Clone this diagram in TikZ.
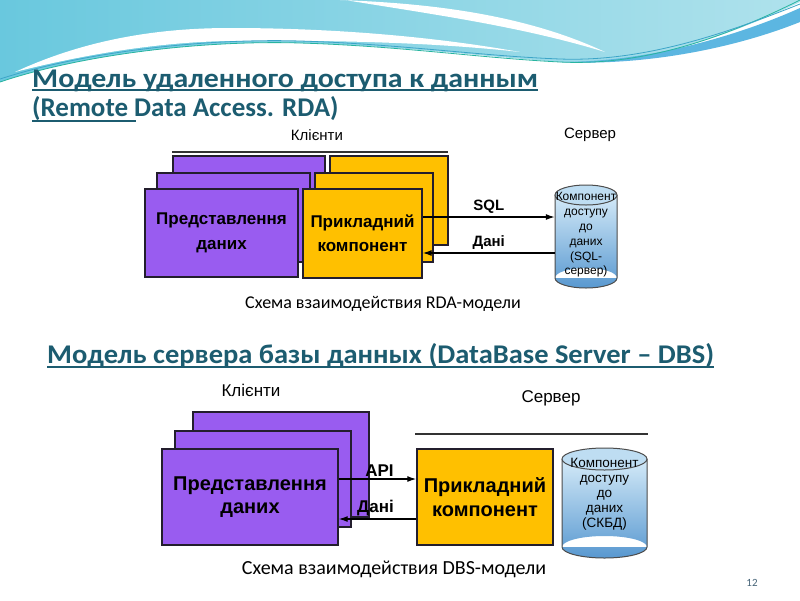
\documentclass[tikz,border=0pt]{standalone}
\usepackage{fontspec}
\setmainfont{Liberation Sans}
\newfontfamily\calibri{Carlito}
\usetikzlibrary{arrows.meta,calc}
\definecolor{ttl}{RGB}{28,92,112}
\definecolor{purp}{RGB}{153,92,240}
\definecolor{yel}{RGB}{255,192,0}
\definecolor{tealL}{RGB}{105,200,222}
\definecolor{tealR}{RGB}{175,226,236}
\definecolor{blueband}{RGB}{92,182,225}
\definecolor{cylT}{RGB}{212,234,248}
\definecolor{cylB}{RGB}{88,152,208}
\definecolor{cylTop}{RGB}{190,221,242}
\definecolor{lineA}{RGB}{40,180,160}
\definecolor{lineB}{RGB}{60,165,200}
\definecolor{edge}{RGB}{35,30,45}
\definecolor{pgcol}{RGB}{70,100,120}
\begin{document}
\begin{tikzpicture}[x=1pt,y=-1pt,
  pbox/.style={draw=edge, line width=1.4pt, fill=purp, inner sep=0pt},
  ybox/.style={draw=edge, line width=1.4pt, fill=yel, inner sep=0pt},
  arr/.style={draw=black, line width=1.3pt, -{Latex[length=9pt,width=6pt]}},
  lbl/.style={font=\bfseries\fontsize{15}{18}\selectfont, inner sep=1.5pt},
  lblb/.style={font=\bfseries\fontsize{17}{20}\selectfont, inner sep=2pt},
  ttlfont/.style={font=\calibri\bfseries\fontsize{27}{32}\selectfont, text=ttl, inner sep=0pt},
  captxt/.style={font=\calibri\fontsize{18}{22}\selectfont, inner sep=0pt},
  cyltext/.style={align=center, inner sep=0pt}]
\useasboundingbox (0,0) rectangle (800,600);
\fill[white] (0,0) rectangle (800,600);
% ---- top decoration ----
\shade[left color=tealL, right color=tealR]
  (0,0) -- (800,0) -- (800,2) .. controls (700,50) and (620,66) .. (560,62)
  .. controls (480,56) and (400,46) .. (300,43)
  .. controls (200,40) and (80,55) .. (0,82) -- cycle;
\fill[blueband]
  (560,62) .. controls (650,62) and (740,35) .. (800,8) -- (800,22)
  .. controls (730,50) and (640,66) .. (560,62) -- cycle;
\fill[white] (15,72) .. controls (80,42) and (150,28) .. (230,28)
  .. controls (330,28) and (430,36) .. (520,52)
  .. controls (430,42) and (330,40) .. (230,41)
  .. controls (150,42) and (70,58) .. (15,72) -- cycle;
\fill[white] (340,0) .. controls (420,3) and (520,12) .. (605,52)
  .. controls (520,26) and (430,14) .. (345,0) -- cycle;
\draw[lineA, line width=0.8pt] (0,82) .. controls (80,55) and (200,40) .. (300,43)
  .. controls (400,46) and (480,58) .. (560,62) .. controls (640,66) and (720,40) .. (800,0);
\draw[lineB, line width=0.8pt] (0,79) .. controls (80,53) and (200,38) .. (300,41)
  .. controls (400,44) and (480,56) .. (560,59) .. controls (640,62) and (720,36) .. (800,4);
% ---- titles ----
\node[ttlfont, anchor=base west] (t1) at (32,87) {\scalebox{1.105}[1]{Модель удаленного доступа к данным}};
\draw[ttl, line width=1.5pt] ($(t1.base west)+(0,3)$) -- ($(t1.base east)+(0,3)$);
\node[ttlfont, anchor=base west] (t2) at (32,116) {(Remote Data Access. RDA)};
\draw[ttl, line width=1.5pt] ($(t2.base west)+(0,5)$) -- ++(104,0);
\node[ttlfont, anchor=base west] (t3) at (47,363) {\scalebox{1.055}[1]{Модель сервера базы данных (DataBase Server – DBS)}};
\draw[ttl, line width=1.5pt] ($(t3.base west)+(0,4)$) -- ($(t3.base east)+(0,4)$);
% ---- diagram 1 (RDA) ----
\node[font=\fontsize{15}{18}\selectfont] (cl1) at (317,135) {Клієнти};
\node[font=\fontsize{15}{18}\selectfont] (sv1) at (590,135) {Сервер};
\draw[line width=2pt, black!80] (172,152) coordinate (h1a) -- (448,152) coordinate (h1b);
\node[pbox, minimum width=152, minimum height=89] (pb1) at (249,200.5) {};
\node[ybox, minimum width=118, minimum height=89] (yb1) at (389,200.5) {};
\node[pbox, minimum width=153, minimum height=89] (pm1) at (233.5,217.5) {};
\node[ybox, minimum width=118, minimum height=89] (ym1) at (374,217.5) {};
\node[pbox, minimum width=153, minimum height=88, align=center,
  font=\bfseries\fontsize{17}{24.5}\selectfont] (pf1) at (221.5,233) {Представлення\\даних};
\node[ybox, minimum width=119, minimum height=89, align=center,
  font=\bfseries\fontsize{17}{24.5}\selectfont] (yf1) at (362.5,233.5) {Прикладний\\компонент};
% cylinder 1
\shade[top color=cylT, bottom color=cylB] (555,195) rectangle (617,278) (586,278) ellipse[x radius=31, y radius=10];
\draw[black!70, line width=1pt] (555,195) -- (555,278) arc[start angle=180, end angle=0, x radius=31, y radius=10] -- (617,195);
\draw[black!70, line width=1pt, fill=cylTop] (586,195) ellipse[x radius=31, y radius=10];
\node[minimum width=62, minimum height=103, inner sep=0pt] (db1) at (586,236.5) {};
\node[cyltext, font=\fontsize{12}{14.8}\selectfont] (db1t) at (586,235) {Компонент\\доступу\\до\\даних\\(SQL-\\сервер)};
\coordinate (s1) at ([yshift=16.5pt]yf1.east);
\draw[arr] (s1) -- node[lbl, above=1pt] {SQL} (s1 -| db1.west);
\coordinate (d1) at ([yshift=-19.5pt]yf1.east);
\draw[arr] (d1 -| db1.west) -- node[lbl, above=1pt] {Дані} (d1);
\node[captxt] (c1) at (383,304) {Схема взаимодействия RDA-модели};
% ---- diagram 2 (DBS) ----
\node[font=\fontsize{17}{20}\selectfont] (cl2) at (251,390) {Клієнти};
\node[font=\fontsize{17}{20}\selectfont] (sv2) at (551,398) {Сервер};
\draw[line width=2pt, black!80] (415,434) coordinate (h2a) -- (648,434) coordinate (h2b);
\node[pbox, minimum width=176, minimum height=105] (pb2) at (281,464.5) {};
\node[pbox, minimum width=176, minimum height=96] (pm2) at (263,479) {};
\node[pbox, minimum width=176, minimum height=96, align=center,
  font=\bfseries\fontsize{20}{23.5}\selectfont] (pf2) at (250,497) {Представлення\\даних};
\node[ybox, minimum width=136, minimum height=96, align=center,
  font=\bfseries\fontsize{20}{23.5}\selectfont] (yf2) at (485,497) {Прикладний\\компонент};
% cylinder 2
\shade[top color=cylT, bottom color=cylB] (562,459) rectangle (647,547) (604.5,547) ellipse[x radius=42.5, y radius=11];
\draw[black!70, line width=1pt] (562,459) -- (562,547) arc[start angle=180, end angle=0, x radius=42.5, y radius=11] -- (647,459);
\draw[black!70, line width=1pt, fill=cylTop] (604.5,459) ellipse[x radius=42.5, y radius=11];
\node[cyltext, font=\fontsize{13.5}{15}\selectfont] (db2t) at (604.5,494) {Компонент\\доступу\\до\\даних\\(СКБД)};
\coordinate (a2) at ([yshift=18pt]pf2.east);
\draw[arr] (a2) -- node[lblb, above=0pt, xshift=2pt] {API} (a2 -| yf2.west);
\coordinate (d2) at ([yshift=-22pt]pf2.east);
\draw[arr] (d2 -| yf2.west) -- node[lblb, above=0pt, xshift=-2pt] {Дані} (d2);
\node[captxt, font=\calibri\fontsize{20}{24}\selectfont] (c2) at (394,569) {Схема взаимодействия DBS-модели};
% page number
\node[font=\calibri\fontsize{11}{13}\selectfont, text=pgcol] (pg) at (752,583) {12};
\end{tikzpicture}
\end{document}
